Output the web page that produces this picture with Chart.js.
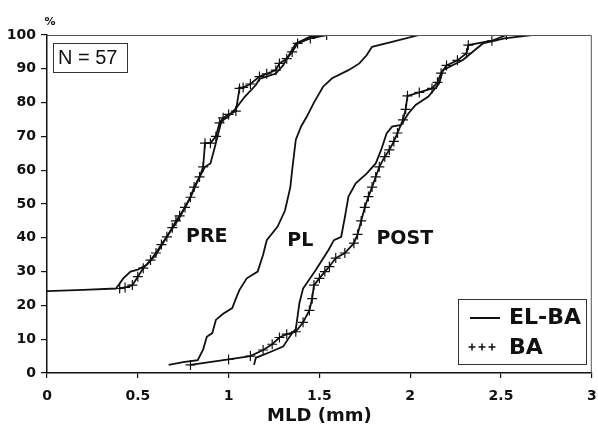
<!DOCTYPE html>
<html>
<head>
<meta charset="utf-8">
<script src="https://cdn.jsdelivr.net/npm/chart.js@4.4.0/dist/chart.umd.min.js"></script>
<style>
  html, body { margin: 0; padding: 0; background: #fff; }
  #wrap { width: 598px; height: 427px; }
</style>
</head>
<body>
<div id="wrap"><canvas id="chart" width="598" height="427"></canvas></div>
<script>
// cumulative MLD distributions
const preElX = [0, 0.2, 0.38, 0.42, 0.46, 0.5, 0.55, 0.6, 0.66, 0.73, 0.79, 0.84, 0.87, 0.9, 0.92, 0.96, 1.0, 1.04, 1.09, 1.15, 1.17, 1.26, 1.3, 1.37, 1.45, 1.53];
const preElY = [24.2, 24.6, 25, 28, 30, 30.6, 32, 35, 40.3, 46, 52, 58, 61, 62, 66, 74.4, 76, 78.3, 81.8, 85.2, 87, 88.6, 91, 97.5, 99.5, 100];

const preBaX = [0.4, 0.43, 0.47, 0.5, 0.53, 0.57, 0.6, 0.63, 0.66, 0.69, 0.71, 0.73, 0.76, 0.79, 0.81, 0.84, 0.86, 0.87, 0.9, 0.93, 0.95, 0.97, 1.0, 1.04, 1.06, 1.08, 1.12, 1.17, 1.21, 1.26, 1.28, 1.32, 1.35, 1.38, 1.45, 1.54];
const preBaY = [25, 25.3, 26, 28.5, 31, 33.4, 35.5, 38, 40.3, 43, 45, 46.5, 49, 52, 55, 58, 61, 68, 68, 70, 74, 75.5, 76.5, 77.5, 84.2, 84.5, 85.5, 87.7, 88.5, 89.6, 91.6, 93, 95, 97.5, 99, 100];

const plX = [0.67, 0.75, 0.83, 0.86, 0.88, 0.91, 0.93, 0.97, 1.02, 1.04, 1.06, 1.1, 1.16, 1.19, 1.21, 1.27, 1.31, 1.32, 1.34, 1.35, 1.37, 1.4, 1.43, 1.47, 1.52, 1.57, 1.66, 1.72, 1.76, 1.79, 1.9, 2.05];
const plY = [2.4, 3.2, 3.8, 7, 10.7, 11.8, 15.7, 17.5, 19.2, 22, 24.6, 28, 30, 35, 39.3, 43.3, 48, 50.3, 55, 60, 69, 73, 75.8, 80, 84.7, 87.2, 89.6, 91.6, 94, 96.5, 98, 100];

const postElX = [1.14, 1.15, 1.22, 1.3, 1.35, 1.37, 1.39, 1.41, 1.48, 1.55, 1.58, 1.62, 1.64, 1.66, 1.7, 1.76, 1.81, 1.84, 1.87, 1.9, 1.95, 1.99, 2.03, 2.1, 2.16, 2.18, 2.29, 2.4, 2.52, 2.67];
const postElY = [2.4, 4.5, 6, 7.8, 11.8, 13, 20.7, 25, 30.5, 36.4, 39.3, 40.3, 46, 52.2, 56.1, 59, 62, 66, 70.9, 72.9, 73.4, 76.8, 79.3, 81.8, 85.7, 89.6, 92.6, 97.5, 99, 100];

const postBaX = [0.79, 1.0, 1.12, 1.19, 1.24, 1.28, 1.32, 1.37, 1.41, 1.445, 1.46, 1.47, 1.5, 1.53, 1.555, 1.59, 1.64, 1.69, 1.71, 1.73, 1.75, 1.77, 1.79, 1.81, 1.83, 1.86, 1.885, 1.91, 1.93, 1.96, 1.975, 1.985, 2.05, 2.12, 2.15, 2.17, 2.2, 2.26, 2.31, 2.32, 2.45, 2.53];
const postBaY = [2.4, 4, 5, 6.8, 8.5, 10.5, 11.5, 12.2, 15, 18.5, 22, 26, 28, 30, 31.5, 34, 35.5, 38.4, 41, 45, 49, 52.2, 55, 58, 61, 64, 66, 68.5, 71, 74.9, 78, 82, 83, 84.2, 86, 88.7, 91, 92.5, 94.6, 97, 98.3, 100];

const xTickLabels = ['0', '0.5', '1', '1.5', '2', '2.5', '3'];
const yTickLabels = ['0', '10', '20', '30', '40', '50', '60', '70', '80', '90', '100'];

const curveNames = ['PRE', 'PL', 'POST'];
const curveNameX = [0.88, 1.395, 1.97];
const curveNameY = [40.2, 39, 39.5];

const legendNames = ['EL-BA', 'BA'];
const sampleText = 'N = 57';

function pts(xs, ys) {
  return xs.map((x, i) => ({ x: x, y: ys[i] }));
}

function solid(xs, ys) {
  return {
    data: pts(xs, ys),
    showLine: true,
    borderColor: '#111',
    borderWidth: 1.8,
    pointRadius: 0,
    tension: 0
  };
}

function crossed(xs, ys) {
  return {
    data: pts(xs, ys),
    showLine: true,
    borderColor: '#111',
    borderWidth: 1.8,
    pointStyle: 'cross',
    pointRadius: 5,
    pointBorderWidth: 1.2,
    pointBorderColor: '#111',
    tension: 0
  };
}

const extras = {
  id: 'extras',
  afterDraw(chart) {
    const ctx = chart.ctx;
    const a = chart.chartArea;
    const xs = chart.scales.x;
    const ys = chart.scales.y;
    ctx.save();

    // frame top/right
    ctx.strokeStyle = '#555';
    ctx.lineWidth = 1;
    ctx.beginPath();
    ctx.moveTo(a.left, a.top + 0.5);
    ctx.lineTo(a.right - 0.5, a.top + 0.5);
    ctx.lineTo(a.right - 0.5, a.bottom);
    ctx.stroke();

    // curve names
    ctx.fillStyle = '#111';
    ctx.font = 'bold 19px "DejaVu Sans"';
    ctx.textAlign = 'center';
    ctx.textBaseline = 'middle';
    curveNames.forEach((t, i) => {
      ctx.fillText(t, xs.getPixelForValue(curveNameX[i]), ys.getPixelForValue(curveNameY[i]));
    });

    // % unit
    ctx.font = 'bold 11px "DejaVu Sans"';
    ctx.fillText('%', a.left + 3, 22);

    // N box
    ctx.strokeStyle = '#333';
    ctx.lineWidth = 1;
    ctx.strokeRect(53.5, 43.5, 74, 29);
    ctx.font = '20px "Liberation Sans"';
    ctx.textAlign = 'left';
    ctx.fillText(sampleText, 58, 58);

    // legend box
    ctx.strokeRect(458.5, 299.5, 128, 65);
    ctx.font = 'bold 22px "DejaVu Sans"';
    ctx.fillText(legendNames[0], 509, 318);
    ctx.fillText(legendNames[1], 509, 348);
    ctx.lineWidth = 2;
    ctx.strokeStyle = '#111';
    ctx.beginPath();
    ctx.moveTo(470, 318);
    ctx.lineTo(500, 318);
    ctx.stroke();
    ctx.lineWidth = 1.5;
    [472, 482, 492].forEach(cx => {
      ctx.beginPath();
      ctx.moveTo(cx - 3.5, 347);
      ctx.lineTo(cx + 3.5, 347);
      ctx.moveTo(cx, 343.5);
      ctx.lineTo(cx, 350.5);
      ctx.stroke();
    });
    ctx.restore();
  }
};

new Chart(document.getElementById('chart'), {
  type: 'scatter',
  data: {
    datasets: [
      solid(preElX, preElY),
      crossed(preBaX, preBaY),
      solid(plX, plY),
      solid(postElX, postElY),
      crossed(postBaX, postBaY)
    ]
  },
  options: {
    responsive: false,
    devicePixelRatio: 1,
    animation: false,
    layout: { padding: { top: 35, right: 5, left: 0, bottom: 0 } },
    plugins: {
      legend: { display: false },
      tooltip: { enabled: false }
    },
    scales: {
      x: {
        type: 'linear',
        min: 0,
        max: 3,
        afterFit: s => { s.height = 54; s.paddingLeft = 0; s.paddingRight = 0; },
        afterBuildTicks: s => { s.ticks = xTickLabels.map(v => ({ value: parseFloat(v) })); },
        border: { color: '#111', width: 1.5 },
        grid: { drawOnChartArea: false, drawTicks: true, tickLength: 5, color: '#111', lineWidth: 1.2 },
        ticks: {
          color: '#111',
          padding: 10,
          maxRotation: 0,
          font: { family: 'DejaVu Sans', weight: 'bold', size: 14 },
          callback: (v, i) => xTickLabels[i]
        },
        title: {
          display: true,
          text: 'MLD (mm)',
          color: '#111',
          padding: { top: 0, bottom: 0 },
          font: { family: 'DejaVu Sans', weight: 'bold', size: 18 }
        }
      },
      y: {
        type: 'linear',
        min: 0,
        max: 100,
        afterFit: s => { s.width = 47; s.paddingTop = 0; s.paddingBottom = 0; },
        afterBuildTicks: s => { s.ticks = yTickLabels.map(v => ({ value: parseFloat(v) })); },
        border: { color: '#111', width: 1.5 },
        grid: { drawOnChartArea: false, drawTicks: true, tickLength: 6, color: '#111', lineWidth: 1.2 },
        ticks: {
          color: '#111',
          padding: 5,
          font: { family: 'DejaVu Sans', weight: 'bold', size: 14 },
          callback: (v, i) => yTickLabels[i]
        }
      }
    }
  },
  plugins: [extras]
});
</script>
</body>
</html>
